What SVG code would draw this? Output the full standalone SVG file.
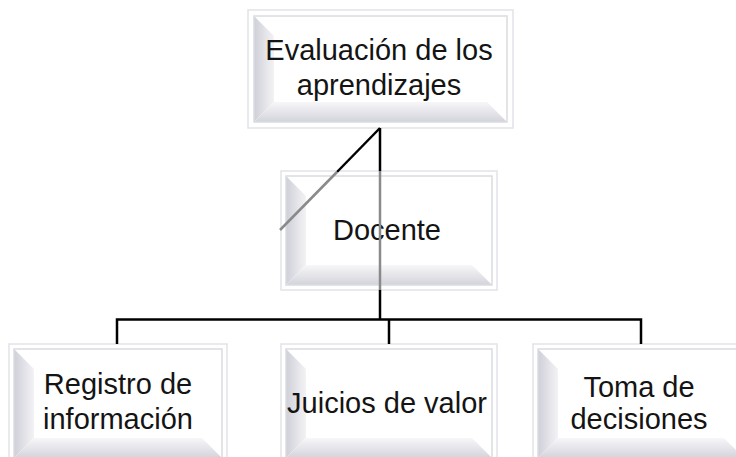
<svg xmlns="http://www.w3.org/2000/svg" width="736" height="457" viewBox="0 0 736 457">
<style>
.outer{fill:#ffffff;stroke:#e1e3e7;stroke-width:1.5}
.inner{fill:none;stroke:#d9dce1;stroke-width:1.5}
.face{fill:#ffffff}
.bl{fill:url(#gl)}
.bb{fill:url(#gb)}
.t{font-family:"Liberation Sans",Arial,sans-serif;font-size:29px;fill:#141414;text-anchor:middle}
.ln{stroke:#000;fill:none;stroke-width:2.5}
.lg{stroke:#8a8a8a;fill:none;stroke-width:2.5}
</style>
<defs>
<linearGradient id="gl" x1="0" y1="0" x2="1" y2="0">
<stop offset="0" stop-color="#cfcfd8"/>
<stop offset="1" stop-color="#f3f3f6"/>
</linearGradient>
<linearGradient id="gb" x1="0" y1="0" x2="0" y2="1">
<stop offset="0" stop-color="#f7f7f9"/>
<stop offset="1" stop-color="#d3d3db"/>
</linearGradient>
</defs>
<rect width="736" height="457" fill="#ffffff"/>

<g id="n-evaluacion">
<rect class="outer" x="248" y="10" width="265" height="118"/>
<polygon class="bl" points="254,16 274,36 274,102 254,122"/>
<polygon class="bb" points="254,122 274,102 487,102 507,122"/>
<rect class="inner" x="254" y="16" width="253" height="106"/>
<text class="t" x="379" y="60">Evaluación de los</text>
<text class="t" x="379" y="95">aprendizajes</text>
</g>

<g id="n-docente">
<rect class="outer" x="281" y="171" width="216" height="119"/>
<polygon class="bl" points="286,176 306,196 306,265 286,285"/>
<polygon class="bb" points="286,285 306,265 472,265 492,285"/>
<rect class="inner" x="286" y="176" width="206" height="109"/>
<text class="t" x="387" y="240">Docente</text>
</g>

<g id="n-registro">
<rect class="outer" x="9" y="344" width="218" height="119"/>
<polygon class="bl" points="14,349 34,369 34,438 14,458"/>
<polygon class="bb" points="14,458 34,438 202,438 222,458"/>
<rect class="inner" x="14" y="349" width="208" height="109"/>
<text class="t" x="118" y="394">Registro de</text>
<text class="t" x="118" y="429">información</text>
</g>

<g id="n-juicios">
<rect class="outer" x="281" y="344" width="216" height="119"/>
<polygon class="bl" points="286,349 306,369 306,438 286,458"/>
<polygon class="bb" points="286,458 306,438 472,438 492,458"/>
<rect class="inner" x="286" y="349" width="206" height="109"/>
<text class="t" x="387" y="413">Juicios de valor</text>
</g>

<g id="n-toma">
<rect class="outer" x="533" y="344" width="216" height="119"/>
<polygon class="bl" points="538,349 558,369 558,438 538,458"/>
<polygon class="bb" points="538,458 558,438 724,438 744,458"/>
<rect class="inner" x="538" y="349" width="206" height="109"/>
<text class="t" x="639" y="397">Toma de</text>
<text class="t" x="639" y="429">decisiones</text>
</g>

<g id="connectors">
<path class="ln" d="M380,128 V171" stroke-width="3"/>
<path class="lg" d="M380,171 V290" stroke-width="3"/>
<path class="ln" d="M380,290 V320" stroke-width="3"/>
<path class="ln" d="M380,128 L337,172" stroke-width="2"/>
<path class="lg" d="M337,172 L280,230" stroke-width="2"/>
<path class="ln" d="M117,344 V319.5 H641 V344"/>
<path class="ln" d="M389,319.5 V344" stroke-width="2"/>
</g>
</svg>
